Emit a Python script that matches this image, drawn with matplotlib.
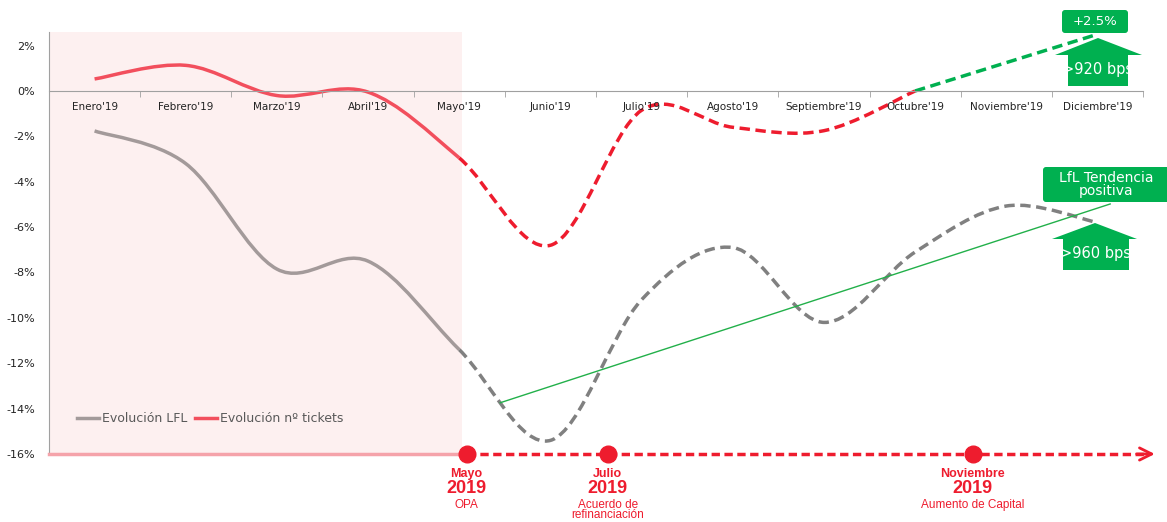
import matplotlib
matplotlib.use("Agg")
import matplotlib.pyplot as plt
from matplotlib.path import Path
from matplotlib.patches import PathPatch, FancyBboxPatch, Polygon
from matplotlib.lines import Line2D
import numpy as np

# datos
meses = ["Enero'19", "Febrero'19", "Marzo'19", "Abril'19", "Mayo'19", "Junio'19",
         "Julio'19", "Agosto'19", "Septiembre'19", "Octubre'19", "Noviembre'19", "Diciembre'19"]
lfl = [-1.76, -3.2, -7.85, -7.5, -11.4, -15.4, -9.2, -6.9, -10.2, -7.1, -5.07, -5.8]
tickets = [0.53, 1.13, -0.2, -0.05, -2.95, -6.8, -0.85, -1.6, -1.75, 0.0]
tickets_proy = [0.0, 1.25, 2.5]          # Octubre -> Diciembre
tendencia_x = [4.45, 11.14]
tendencia_y = [-13.74, -4.98]
eventos_x = [4.08, 5.63, 9.63]
eventos_mes = ["Mayo", "Julio", "Noviembre"]
eventos_txt = ["OPA", "Acuerdo de\nrefinanciación", "Aumento de Capital"]
yticks = [2, 0, -2, -4, -6, -8, -10, -12, -14, -16]

ROJO = "#ee1c2e"
ROJO_CLARO = "#f24f5d"
GRIS = "#a39a9a"
GRIS_OSC = "#808080"
VERDE = "#00b050"
DASH = (0, (3.0, 1.6))


def curva(xs, ys, a, b):
    # tramo suavizado (estilo Excel) entre los puntos a y b
    P = np.column_stack([xs, ys]).astype(float)
    n = len(P)
    verts = [P[a]]
    codes = [Path.MOVETO]
    for i in range(a, b):
        p0 = P[max(i - 1, 0)]
        p3 = P[min(i + 2, n - 1)]
        c1 = P[i] + (P[i + 1] - p0) / 6
        c2 = P[i + 1] - (p3 - P[i]) / 6
        verts += [c1, c2, P[i + 1]]
        codes += [Path.CURVE4] * 3
    return Path(verts, codes)


W, H = 1167, 522
fig = plt.figure(figsize=(W / 100, H / 100), dpi=100)
ax = fig.add_axes([49 / W, 1 - 454 / H, 1094 / W, 422 / H])
ax.set_xlim(-0.5, 11.5)
ax.set_ylim(-16, 2.6)

x = np.arange(len(meses))
ax.axvspan(-0.5, 4.03, color="#fdf0f0", zorder=0, lw=0)

# LFL
ax.add_patch(PathPatch(curva(x, lfl, 0, 4), fill=False, ec=GRIS, lw=2.5))
ax.add_patch(PathPatch(curva(x, lfl, 4, 11), fill=False, ec=GRIS_OSC, lw=2.5, linestyle=DASH))
# tickets
ax.add_patch(PathPatch(curva(x[:10], tickets, 0, 4), fill=False, ec=ROJO_CLARO, lw=2.5))
ax.add_patch(PathPatch(curva(x[:10], tickets, 4, 9), fill=False, ec=ROJO, lw=2.5, linestyle=DASH))
ax.add_patch(PathPatch(curva(x[9:], tickets_proy, 0, 2), fill=False, ec=VERDE, lw=2.5,
                       linestyle=DASH))

# tendencia
ax.plot(tendencia_x, tendencia_y, color="#22b04a", lw=1, clip_on=False)

# ejes
for s in ["top", "right"]:
    ax.spines[s].set_visible(False)
ax.spines["bottom"].set_position(("data", 0))
ax.spines["bottom"].set_color("#a0a0a0")
ax.spines["left"].set_color("#a0a0a0")
ax.set_xticks(x)
ax.set_xticklabels(meses, fontsize=7.5, color="#222222")
ax.set_xticks(np.arange(-0.5, 12, 1), minor=True)
ax.tick_params(axis="x", which="major", length=0, pad=8)
ax.tick_params(axis="x", which="minor", length=4, color="#a0a0a0", direction="out")
ax.set_yticks(yticks)
ax.set_yticklabels([f"{v}%" for v in yticks], fontsize=8, color="#222222")
ax.tick_params(axis="y", length=0, pad=10)

handles = [Line2D([], [], color=GRIS, lw=2.5), Line2D([], [], color=ROJO_CLARO, lw=2.5)]
ax.legend(handles, ["Evolución LFL", "Evolución nº tickets"], loc="center left",
          bbox_to_anchor=(0.015, 0.083), ncol=2, frameon=False, fontsize=9,
          handlelength=1.8, handletextpad=0.2, columnspacing=0.6, labelcolor="#595959")

# linea de tiempo
ax.plot([-0.5, 4.0], [-16, -16], color="#f5a3aa", lw=2.5, clip_on=False, zorder=3)
ax.plot([eventos_x[0], 11.55], [-16, -16], color=ROJO, lw=2.5, clip_on=False,
        linestyle=(0, (2.4, 1.3)), zorder=3)
ax.annotate("", xy=(11.66, -16), xytext=(11.4, -16), annotation_clip=False,
            arrowprops=dict(arrowstyle="->", color=ROJO, lw=2, mutation_scale=22))
ax.plot(eventos_x, [-16] * 3, "o", color=ROJO, ms=12, clip_on=False, zorder=4)
fam = "Liberation Sans"
for ex, mes, txt in zip(eventos_x, eventos_mes, eventos_txt):
    ax.annotate(mes, (ex, -16), xytext=(0, -14.5), textcoords="offset points", ha="center",
                va="center", fontsize=9, fontweight="bold", color=ROJO, family=fam,
                annotation_clip=False)
    ax.annotate("2019", (ex, -16), xytext=(0, -25), textcoords="offset points", ha="center",
                va="center", fontsize=13, fontweight="bold", color=ROJO, family=fam,
                annotation_clip=False)
    ax.annotate(txt, (ex, -16), xytext=(0, -32.5), textcoords="offset points", ha="center",
                va="top", fontsize=8.5, color=ROJO, family=fam, linespacing=0.8,
                annotation_clip=False)

# cajas y flechas verdes (en pixeles)
ov = fig.add_axes([0, 0, 1, 1])
ov.set_xlim(0, W)
ov.set_ylim(H, 0)
ov.axis("off")
ov.patch.set_alpha(0)


def caja(x0, y0, x1, y1, txt, fs):
    ov.add_patch(FancyBboxPatch((x0 + 3, y0 + 3), x1 - x0 - 6, y1 - y0 - 6,
                                boxstyle="round,pad=3", fc=VERDE, ec="none"))
    ov.text((x0 + x1) / 2, (y0 + y1) / 2, txt, color="white", fontsize=fs, ha="center",
            va="center", linespacing=1.0)


def flecha(tipx, tip, base, fondo, hx0, hx1, bx0, bx1, txt):
    pts = [(tipx, tip), (hx1, base), (bx1, base), (bx1, fondo), (bx0, fondo), (bx0, base),
           (hx0, base)]
    ov.add_patch(Polygon(pts, closed=True, fc=VERDE, ec="none"))
    ov.text((bx0 + bx1) / 2, (base + fondo) / 2 - 1, txt, color="white", fontsize=10.5,
            ha="center", va="center")


caja(1062, 10, 1128, 33, "+2.5%", 9.5)
flecha(1098, 38, 55, 86, 1055, 1142, 1068, 1128, ">920 bps")
caja(1043, 167, 1170, 202, "LfL Tendencia\npositiva", 10)
flecha(1095, 223, 239, 270, 1052, 1137, 1063, 1129, ">960 bps")

fig.savefig("out.png", dpi=100)
